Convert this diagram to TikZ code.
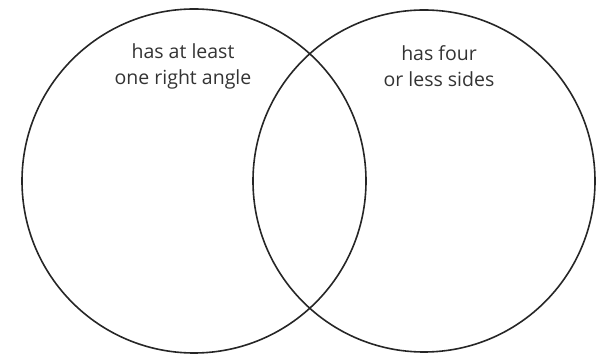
\documentclass[tikz,border=0pt]{standalone}
\usepackage{fontspec}
\setmainfont{Open Sans}
\begin{document}
\begin{tikzpicture}[x=1pt, y=-1pt]
    \tikzset{set/.style={line width = 1.6pt, black!85}, lbl/.style={align=center, font=\fontsize{19.5}{26}\selectfont, text=black!80}}
    \useasboundingbox (0,0) rectangle (598,355);
    \draw[set] (194,181) circle (172);
    \draw[set] (424,181) circle (171);
    \node[lbl] (left) at (183,66){has at least\\one right angle};
    \node[lbl] (right) at (439,66){has four\\or less sides};
\end{tikzpicture}
\end{document}
